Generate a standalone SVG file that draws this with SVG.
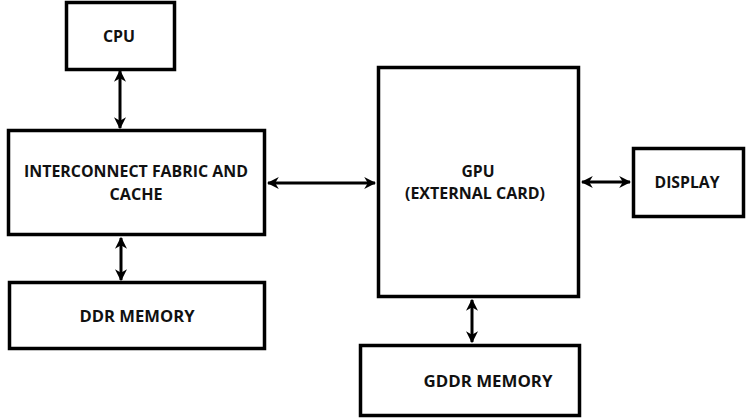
<svg xmlns="http://www.w3.org/2000/svg" width="754" height="420" viewBox="0 0 754 420">
<defs>
<style>
.box{fill:#fff;stroke:#000;stroke-width:3.5}
.lbl{font-family:"Open Sans","Liberation Sans",sans-serif;font-weight:bold;font-size:16px;fill:#111;text-anchor:middle}
.con{stroke:#000;stroke-width:3;fill:none;marker-start:url(#a);marker-end:url(#a)}
</style>
<marker id="a" viewBox="0 0 10 10" refX="9" refY="5" markerWidth="4" markerHeight="4" orient="auto-start-reverse" markerUnits="strokeWidth">
<path d="M0,0 L10,5 L0,10 L3,5 Z" fill="#000"/>
</marker>
</defs>
<rect width="754" height="420" fill="#fff"/>
<g id="connectors">
<line class="con" x1="120" y1="71" x2="120" y2="128"/>
<line class="con" x1="121" y1="238" x2="121" y2="280"/>
<line class="con" x1="268" y1="183" x2="375" y2="183"/>
<line class="con" x1="582" y1="182" x2="630" y2="182"/>
<line class="con" x1="472" y1="300" x2="472" y2="342"/>
</g>
<g id="cpu">
<rect class="box" x="66.5" y="2.5" width="108" height="67"/>
<text class="lbl" x="119" y="42" textLength="32" lengthAdjust="spacingAndGlyphs">CPU</text>
</g>
<g id="interconnect">
<rect class="box" x="8.5" y="130.5" width="256" height="104"/>
<text class="lbl" x="136" y="177" textLength="224" lengthAdjust="spacingAndGlyphs">INTERCONNECT FABRIC AND</text>
<text class="lbl" x="136" y="200" textLength="53" lengthAdjust="spacingAndGlyphs">CACHE</text>
</g>
<g id="ddr">
<rect class="box" x="9.5" y="282.5" width="255" height="66"/>
<text class="lbl" x="137" y="322" textLength="115" lengthAdjust="spacingAndGlyphs">DDR MEMORY</text>
</g>
<g id="gpu">
<rect class="box" x="378.5" y="67.5" width="200" height="229"/>
<text class="lbl" x="478" y="177" textLength="33" lengthAdjust="spacingAndGlyphs">GPU</text>
<text class="lbl" x="475" y="199" textLength="140" lengthAdjust="spacingAndGlyphs">(EXTERNAL CARD)</text>
</g>
<g id="display">
<rect class="box" x="633.5" y="148.5" width="110" height="68"/>
<text class="lbl" x="687" y="188" textLength="65" lengthAdjust="spacingAndGlyphs">DISPLAY</text>
</g>
<g id="gddr">
<rect class="box" x="360.5" y="345.5" width="219" height="70"/>
<text class="lbl" x="488" y="387" textLength="129" lengthAdjust="spacingAndGlyphs">GDDR MEMORY</text>
</g>
</svg>
